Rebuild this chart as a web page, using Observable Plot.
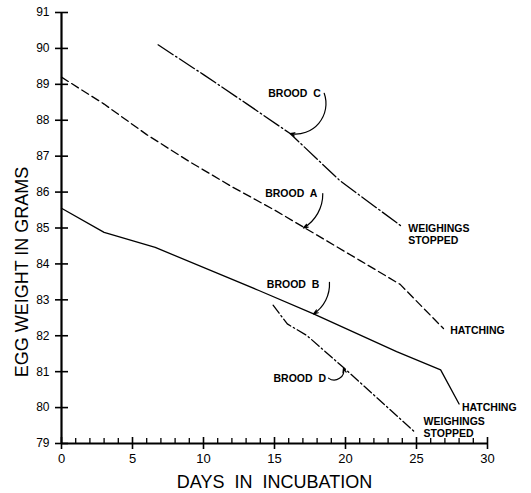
<!DOCTYPE html>
<html>
<head>
<meta charset="utf-8">
<script src="https://cdn.jsdelivr.net/npm/d3@7"></script>
<script src="https://cdn.jsdelivr.net/npm/@observablehq/plot@0.6"></script>
<style>
  html, body { margin: 0; padding: 0; background: #fff; }
  #chart svg { display: block; }
</style>
</head>
<body>
<div id="chart"></div>
<script>
// Series (days in incubation, egg weight in grams)
const broodADays = [0, 3, 6, 9, 12, 15, 18, 21, 23.85, 26.9];
const broodAWeights = [89.2, 88.45, 87.6, 86.85, 86.15, 85.5, 84.8, 84.1, 83.43, 82.2];

const broodCDays = [6.8, 10, 13, 16.1, 19.6, 23.9];
const broodCWeights = [90.1, 89.27, 88.47, 87.63, 86.32, 85.06];

const broodBDays = [0, 3, 6.6, 13.9, 17.75, 23.6, 26.7, 28];
const broodBWeights = [85.55, 84.88, 84.46, 83.26, 82.61, 81.56, 81.05, 80.1];

const broodDDays = [14.9, 15.9, 17.3, 19.9, 24.9];
const broodDWeights = [82.85, 82.33, 82.0, 81.1, 79.31];

// Ticks
const yTicks = [79, 80, 81, 82, 83, 84, 85, 86, 87, 88, 89, 90, 91];
const xMajorTicks = [0, 5, 10, 15, 20, 25, 30];
const xMinorTicks = [1, 2, 3, 4, 6, 7, 8, 9, 11, 12, 13, 14, 16, 17, 18, 19, 21, 22, 23, 24, 26, 27, 28, 29];

// Annotations
const labelTexts = ["BROOD  C", "BROOD  A", "BROOD  B", "BROOD  D"];
const labelDays = [14.56, 14.34, 14.46, 14.93];
const labelWeights = [88.75, 85.97, 83.42, 80.82];
const arrowFromDays = [18.5, 18.4, 18.87, 18.8];
const arrowFromWeights = [88.75, 85.96, 83.49, 80.82];
const arrowToDays = [16.1, 17.04, 17.75, 19.86];
const arrowToWeights = [87.63, 85.0, 82.61, 81.1];
const arrowBends = [60, 30, 30, -70];

const noteTexts = ["WEIGHINGS\nSTOPPED", "HATCHING", "HATCHING", "WEIGHINGS\nSTOPPED"];
const noteDays = [24.42, 27.37, 28.2, 25.5];
const noteWeights = [84.83, 82.14, 80.0, 79.45];

const xTitle = "DAYS  IN  INCUBATION";
const yTitle = "EGG WEIGHT IN GRAMS";

const toPts = (xs, ys) => xs.map((x, i) => ({day: x, weight: ys[i]}));
const series = [
  {pts: toPts(broodADays, broodAWeights), dash: "8,4"},
  {pts: toPts(broodCDays, broodCWeights), dash: "18,3,1.5,3"},
  {pts: toPts(broodBDays, broodBWeights), dash: null},
  {pts: toPts(broodDDays, broodDWeights), dash: "10,3,1.5,3"}
];

const labels = labelTexts.map((t, i) => ({text: t, day: labelDays[i], weight: labelWeights[i]}));
const notes = noteTexts.map((t, i) => ({text: t, day: noteDays[i], weight: noteWeights[i]}));
const arrows = arrowBends.map((b, i) => ({
  x1: arrowFromDays[i], y1: arrowFromWeights[i], x2: arrowToDays[i], y2: arrowToWeights[i], bend: b
}));

const W = 531, H = 493;
const mL = 61, mR = 44, mT = 12, mB = 50;
const frameW = W - mL - mR, frameH = H - mT - mB;
const FONT = "'Liberation Sans', Arial, sans-serif";

const chart = Plot.plot({
  width: W,
  height: H,
  marginLeft: mL,
  marginRight: mR,
  marginTop: mT,
  marginBottom: mB,
  style: {fontFamily: FONT, color: "#000", background: "#fff", overflow: "visible"},
  x: {domain: [0, 30], axis: null},
  y: {domain: [79, 91], axis: null},
  marks: [
    // axis lines
    Plot.ruleX([0], {y1: 79, y2: 91, strokeWidth: 2.2, stroke: "#000"}),
    Plot.ruleY([79], {x1: 0, x2: 30, strokeWidth: 2.2, stroke: "#000"}),
    // y ticks (crossing)
    Plot.tickY(yTicks, {y: d => d, insetLeft: -6, insetRight: frameW - 7, strokeWidth: 1.6, stroke: "#000"}),
    // x major ticks (crossing)
    Plot.tickX(xMajorTicks, {x: d => d, insetTop: frameH - 6, insetBottom: -6, strokeWidth: 1.6, stroke: "#000"}),
    // x minor ticks (upward)
    Plot.tickX(xMinorTicks, {x: d => d, insetTop: frameH - 5, insetBottom: 0, strokeWidth: 1.3, stroke: "#000"}),
    // tick labels
    Plot.axisY({ticks: yTicks, tickSize: 0, tickPadding: 12, label: null, fontSize: 12, tickFormat: d => String(d)}),
    Plot.axisX({ticks: xMajorTicks, tickSize: 0, tickPadding: 10, label: null, fontSize: 13, tickFormat: d => String(d)}),
    // axis titles
    Plot.text([xTitle], {text: d => d, frameAnchor: "bottom", textAnchor: "middle", dy: 38.5, lineAnchor: "middle", fontSize: 18}),
    Plot.text([yTitle], {text: d => d, frameAnchor: "left", textAnchor: "middle", dx: -39, dy: 44, rotate: -90, lineAnchor: "middle", fontSize: 18}),
    // series
    ...series.map(s => Plot.line(s.pts, {x: "day", y: "weight", stroke: "#000", strokeWidth: 1.3, strokeDasharray: s.dash})),
    // curved arrows
    ...arrows.map(a => Plot.arrow([a], {x1: "x1", y1: "y1", x2: "x2", y2: "y2", bend: a.bend, stroke: "#000", strokeWidth: 1.2, headLength: 6, headAngle: 40})),
    // labels
    Plot.text(labels, {x: "day", y: "weight", text: "text", textAnchor: "start", lineAnchor: "middle", fontSize: 10.5, fontWeight: 600}),
    Plot.text(notes, {x: "day", y: "weight", text: "text", textAnchor: "start", lineAnchor: "middle", fontSize: 10.5, fontWeight: 600, lineHeight: 1.1})
  ]
});

document.getElementById("chart").appendChild(chart);
</script>
</body>
</html>
